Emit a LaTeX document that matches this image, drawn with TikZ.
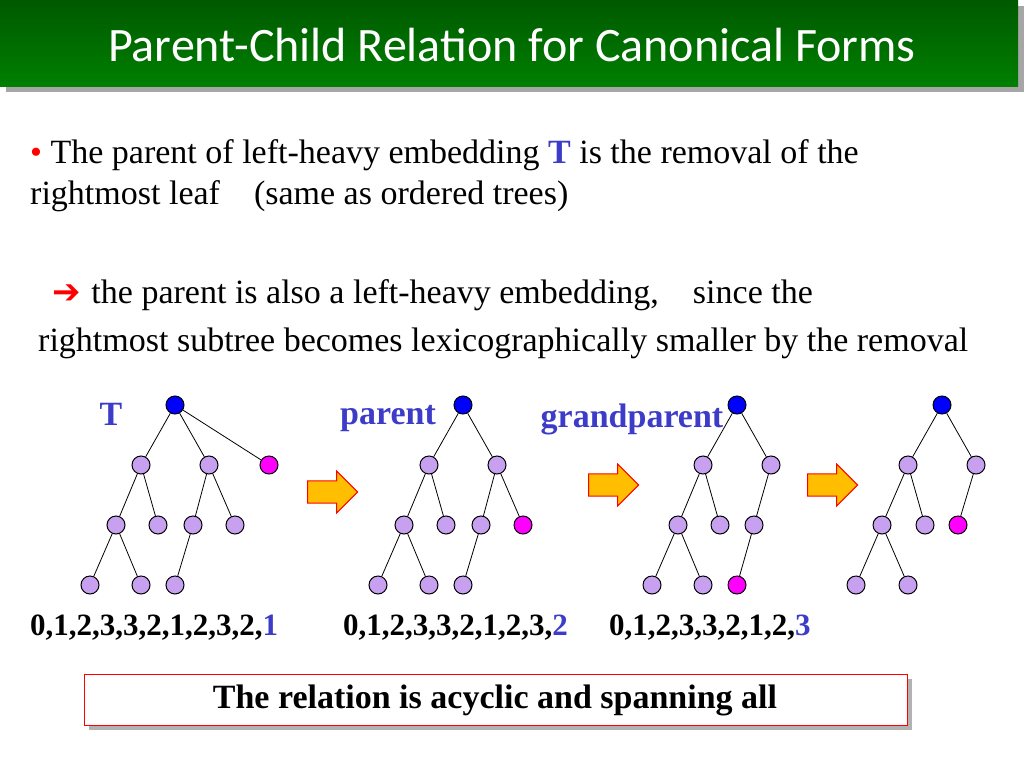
\documentclass[tikz,border=0pt]{standalone}
\usepackage{fontspec}
\setmainfont{Liberation Serif}
\newfontfamily\titlefont{Carlito}
\usetikzlibrary{shapes.arrows,shadows}
\definecolor{tblue}{RGB}{60,60,200}
\definecolor{lav}{RGB}{200,160,240}
\definecolor{mag}{RGB}{255,0,255}
\definecolor{aro}{RGB}{255,190,0}
\tikzset{
 v/.style={circle,draw=black,fill=lav,minimum size=18pt,inner sep=0pt,line width=1pt},
 r/.style={v,fill=blue},
 m/.style={v,fill=mag},
 e/.style={line width=0.8pt},
 barrow/.style={single arrow,draw=red,fill=aro,line width=1pt,minimum height=50pt,minimum width=42pt,single arrow head extend=4pt,inner sep=4pt},
 body/.style={font=\fontsize{34}{40}\selectfont,anchor=west,inner sep=0pt},
 lab/.style={font=\fontsize{34}{38}\selectfont\bfseries,text=tblue,inner sep=0pt},
 seq/.style={font=\fontsize{31}{36}\selectfont\bfseries,anchor=west,inner sep=0pt}
}
\newcommand{\bl}[1]{\textcolor{tblue}{#1}}
\begin{document}
\begin{tikzpicture}[x=1pt,y=-1pt]
\useasboundingbox (0,0) rectangle (1024,768);
\fill[gray!70] (6,6) rectangle (1024,92);
\shade[top color=green!35!black,bottom color=green!50!black] (0,0) rectangle (1018,86);
\node[font=\titlefont\fontsize{48}{50}\selectfont,text=white] (title) at (512,45) {Parent-Child Relation for Canonical Forms};
\node[body] (l1) at (30,155) {\textcolor{red}{\textbullet} The parent of left-heavy embedding \textbf{\bl{T}} is the removal of the};
\node[body] (l2) at (30,196) {rightmost leaf\quad (same as ordered trees)};
\node[body] (l3) at (52,295) {\fontspec{DejaVu Sans}\textcolor{red}{➔}\ \rmfamily the parent is also a left-heavy embedding,\quad since the};
\node[body] (l4) at (38,343) {rightmost subtree becomes lexicographically smaller by the removal};
\node[lab] (lT) at (111,414) {T};
\node[lab] (lp) at (388,419) {parent};
\node[lab] (lg) at (632,419) {grandparent};
% tree 1
\node[r] (a) at (175,405) {};
\node[v] (b1) at (141,465) {}; \node[v] (b2) at (209,465) {}; \node[m] (b3) at (269,465) {};
\node[v] (c1) at (116,525) {}; \node[v] (c2) at (158,525) {}; \node[v] (c3) at (193,525) {}; \node[v] (c4) at (235,525) {};
\node[v] (d1) at (90,585) {}; \node[v] (d2) at (141,585) {}; \node[v] (d3) at (175,585) {};
\draw[e] (a)--(b1) (a)--(b2) (a)--(b3) (b1)--(c1) (b1)--(c2) (b2)--(c3) (b2)--(c4) (c1)--(d1) (c1)--(d2) (c3)--(d3);
% tree 2
\node[r] (pa) at (463,405) {};
\node[v] (pb1) at (429,465) {}; \node[v] (pb2) at (497,465) {};
\node[v] (pc1) at (404,525) {}; \node[v] (pc2) at (446,525) {}; \node[v] (pc3) at (481,525) {}; \node[m] (pc4) at (523,525) {};
\node[v] (pd1) at (378,585) {}; \node[v] (pd2) at (429,585) {}; \node[v] (pd3) at (463,585) {};
\draw[e] (pa)--(pb1) (pa)--(pb2) (pb1)--(pc1) (pb1)--(pc2) (pb2)--(pc3) (pb2)--(pc4) (pc1)--(pd1) (pc1)--(pd2) (pc3)--(pd3);
% tree 3
\node[r] (ga) at (737,405) {};
\node[v] (gb1) at (703,465) {}; \node[v] (gb2) at (771,465) {};
\node[v] (gc1) at (678,525) {}; \node[v] (gc2) at (720,525) {}; \node[v] (gc3) at (754,525) {};
\node[v] (gd1) at (652,585) {}; \node[v] (gd2) at (703,585) {}; \node[m] (gd3) at (737,585) {};
\draw[e] (ga)--(gb1) (ga)--(gb2) (gb1)--(gc1) (gb1)--(gc2) (gb2)--(gc3) (gc1)--(gd1) (gc1)--(gd2) (gc3)--(gd3);
% tree 4
\node[r] (ha) at (942,405) {};
\node[v] (hb1) at (908,465) {}; \node[v] (hb2) at (976,465) {};
\node[v] (hc1) at (882,525) {}; \node[v] (hc2) at (925,525) {}; \node[m] (hc3) at (958,525) {};
\node[v] (hd1) at (856,585) {}; \node[v] (hd2) at (908,585) {};
\draw[e] (ha)--(hb1) (ha)--(hb2) (hb1)--(hc1) (hb1)--(hc2) (hb2)--(hc3) (hc1)--(hd1) (hc1)--(hd2);
% arrows
\node[barrow] (ar1) at (327,492) {};
\node[barrow] (ar2) at (608,485) {};
\node[barrow] (ar3) at (827,485) {};
% sequences
\node[seq] (s1) at (30,628) {0,1,2,3,3,2,1,2,3,2,\bl{1}};
\node[seq] (s2) at (343,628) {0,1,2,3,3,2,1,2,3,\bl{2}};
\node[seq] (s3) at (609,628) {0,1,2,3,3,2,1,2,\bl{3}};
% box
\fill[gray!60] (89,679) rectangle (912,730);
\draw[red,fill=white,line width=1pt] (84,674) rectangle (907,725);
\node[font=\fontsize{34}{38}\selectfont\bfseries] (bx) at (495,700) {The relation is acyclic and spanning all};
\end{tikzpicture}
\end{document}
